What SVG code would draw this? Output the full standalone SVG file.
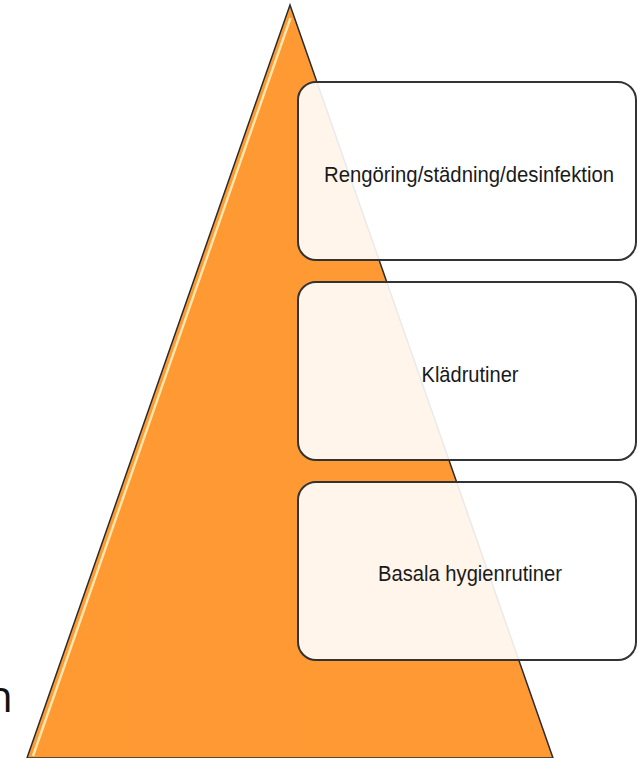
<svg xmlns="http://www.w3.org/2000/svg" width="638" height="758" viewBox="0 0 638 758">
<defs>
<linearGradient id="tri" x1="0" y1="0" x2="1" y2="0">
<stop offset="0" stop-color="#FF9A33"/>
<stop offset="1" stop-color="#FF9933"/>
</linearGradient>
</defs>
<style>
.box{fill:#ffffff;fill-opacity:0.9;stroke:#333333;stroke-width:2}
.lbl{font-family:"Liberation Sans",Arial,sans-serif;font-size:22px;fill:#1a1a1a;text-anchor:middle}
</style>
<rect width="638" height="758" fill="#ffffff"/>
<g id="pyramid">
<polygon points="290,5 553,758 27,758" fill="url(#tri)" stroke="#2b2b2b" stroke-width="1.5"/>
<line x1="290.5" y1="18" x2="33" y2="756" stroke="#FFE8B0" stroke-width="2.4"/>
</g>
<text x="-14" y="712" font-family="'Open Sans',sans-serif" font-size="44" fill="#111111">n</text>
<g id="node1">
<rect class="box" x="298" y="82" width="338" height="178" rx="18"/>
<text class="lbl" x="469" y="182" textLength="290" lengthAdjust="spacingAndGlyphs">Rengöring/städning/desinfektion</text>
</g>
<g id="node2">
<rect class="box" x="298" y="282" width="338" height="178" rx="18"/>
<text class="lbl" x="470" y="382" textLength="97" lengthAdjust="spacingAndGlyphs">Klädrutiner</text>
</g>
<g id="node3">
<rect class="box" x="298" y="482" width="338" height="178" rx="18"/>
<text class="lbl" x="470" y="581" textLength="184" lengthAdjust="spacingAndGlyphs">Basala hygienrutiner</text>
</g>
<g id="connectors"></g>
</svg>
